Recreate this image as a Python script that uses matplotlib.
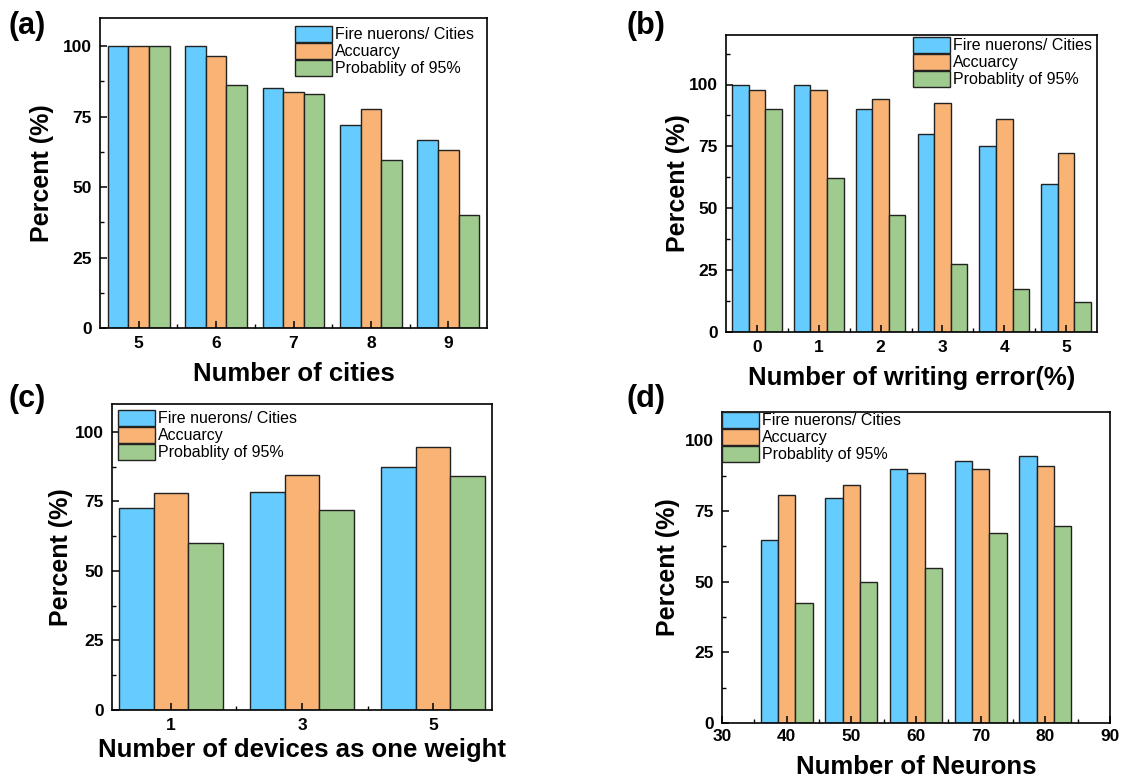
import matplotlib
matplotlib.use("Agg")
import matplotlib.pyplot as plt
import numpy as np

plt.rcParams['font.family'] = ['Liberation Sans', 'DejaVu Sans']

series_names = ["Fire nuerons/ Cities", "Accuarcy", "Probablity of 95%"]
colors = ["#66CCFF", "#F8B375", "#A0CB8E"]

# (a)
cities = [5, 6, 7, 8, 9]
a_fire = [100, 100, 85, 72.2, 66.7]
a_acc = [100, 96.4, 83.7, 77.7, 63]
a_prob = [100, 86.1, 83, 59.6, 40]

# (b)
write_err = [0, 1, 2, 3, 4, 5]
b_fire = [100, 100, 90, 80, 75, 60]
b_acc = [97.8, 97.6, 94.3, 92.6, 86.1, 72.2]
b_prob = [90.1, 62.4, 47.4, 27.5, 17.3, 12.1]

# (c)
devices = [1, 3, 5]
c_fire = [72.5, 78.5, 87.4]
c_acc = [77.9, 84.3, 94.6]
c_prob = [60, 72, 84]

# (d)
neurons = [40, 50, 60, 70, 80]
d_fire = [64.6, 79.7, 89.7, 92.5, 94.4]
d_acc = [80.6, 84.3, 88.4, 89.7, 90.9]
d_prob = [42.3, 49.7, 54.8, 67.3, 69.7]


def draw(ax, x, vals, width, xlim, ylim, xlabel, minor_x, ylpad=6, xlpad=4):
    x = np.asarray(x, dtype=float)
    for i, v in enumerate(vals):
        ax.bar(x + (i - 1) * width, v, width, color=colors[i], edgecolor="#222222",
               linewidth=1.0, label=series_names[i])
    ax.set_xlim(*xlim)
    ax.set_ylim(*ylim)
    ax.set_yticks([0, 25, 50, 75, 100])
    ax.set_yticks(np.arange(12.5, ylim[1], 25), minor=True)
    if minor_x is not None:
        ax.set_xticks(minor_x, minor=True)
    ax.tick_params(which="both", direction="in", top=False, right=False)
    ax.tick_params(which="major", length=5, width=1.1, labelsize=12.5, pad=6)
    ax.tick_params(which="minor", length=3, width=1.0)
    for s in ax.spines.values():
        s.set_linewidth(1.2)
    ax.set_xlabel(xlabel, fontsize=18.5, fontweight="bold", labelpad=xlpad)
    ax.set_ylabel("Percent (%)", fontsize=18, fontweight="bold", labelpad=ylpad)


fig = plt.figure(figsize=(11.24, 7.80), dpi=100)
W, H = 1124.0, 780.0


def add_axes(l, r, t, b):
    return fig.add_axes([l / W, 1 - b / H, (r - l) / W, (b - t) / H])


ax_a = add_axes(100, 487, 18, 328)
draw(ax_a, cities, [a_fire, a_acc, a_prob], 0.267, (4.5, 9.5), (0, 110),
     "Number of cities", [5.5, 6.5, 7.5, 8.5], ylpad=6, xlpad=8)
ax_a.set_xticks(cities)

ax_b = add_axes(726, 1097, 35, 332)
draw(ax_b, write_err, [b_fire, b_acc, b_prob], 0.267, (-0.5, 5.5), (0, 120),
     "Number of writing error(%)", [0.5, 1.5, 2.5, 3.5, 4.5], ylpad=-1, xlpad=8)
ax_b.set_xticks(write_err)

ax_c = add_axes(112, 492, 404, 710)
draw(ax_c, devices, [c_fire, c_acc, c_prob], 0.533, (0.1, 5.9), (0, 110),
     "Number of devices as one weight", [2, 4], ylpad=1, xlpad=3)
ax_c.set_xticks(devices)

ax_d = add_axes(722, 1110, 412, 723)
draw(ax_d, neurons, [d_fire, d_acc, d_prob], 2.67, (30, 90), (0, 110),
     "Number of Neurons", [35, 45, 55, 65, 75, 85], ylpad=3, xlpad=8)
ax_d.set_xticks([30, 40, 50, 60, 70, 80, 90])
ax_d.tick_params(axis="x", which="major", pad=4)

for ax in (ax_a, ax_b, ax_c, ax_d):
    for lab in ax.get_xticklabels() + ax.get_yticklabels():
        lab.set_fontweight("bold")

legend_pos = {ax_a: (295, 26), ax_b: (913, 37), ax_c: (118, 410), ax_d: (722, 412)}
for ax, (lx, ly) in legend_pos.items():
    ax.legend(loc="upper left", bbox_to_anchor=(lx / W, 1 - ly / H),
              bbox_transform=fig.transFigure, frameon=False, fontsize=11.5,
              handlelength=2.3, handleheight=1.12, labelspacing=0.05,
              handletextpad=0.2, borderpad=0, borderaxespad=0)

for txt, x, y in [("(a)", 8, 34), ("(b)", 626, 34), ("(c)", 8, 407), ("(d)", 626, 407)]:
    fig.text(x / W, 1 - y / H, txt, fontsize=22, fontweight="bold", ha="left", va="baseline")

fig.savefig("out.png", dpi=100)
